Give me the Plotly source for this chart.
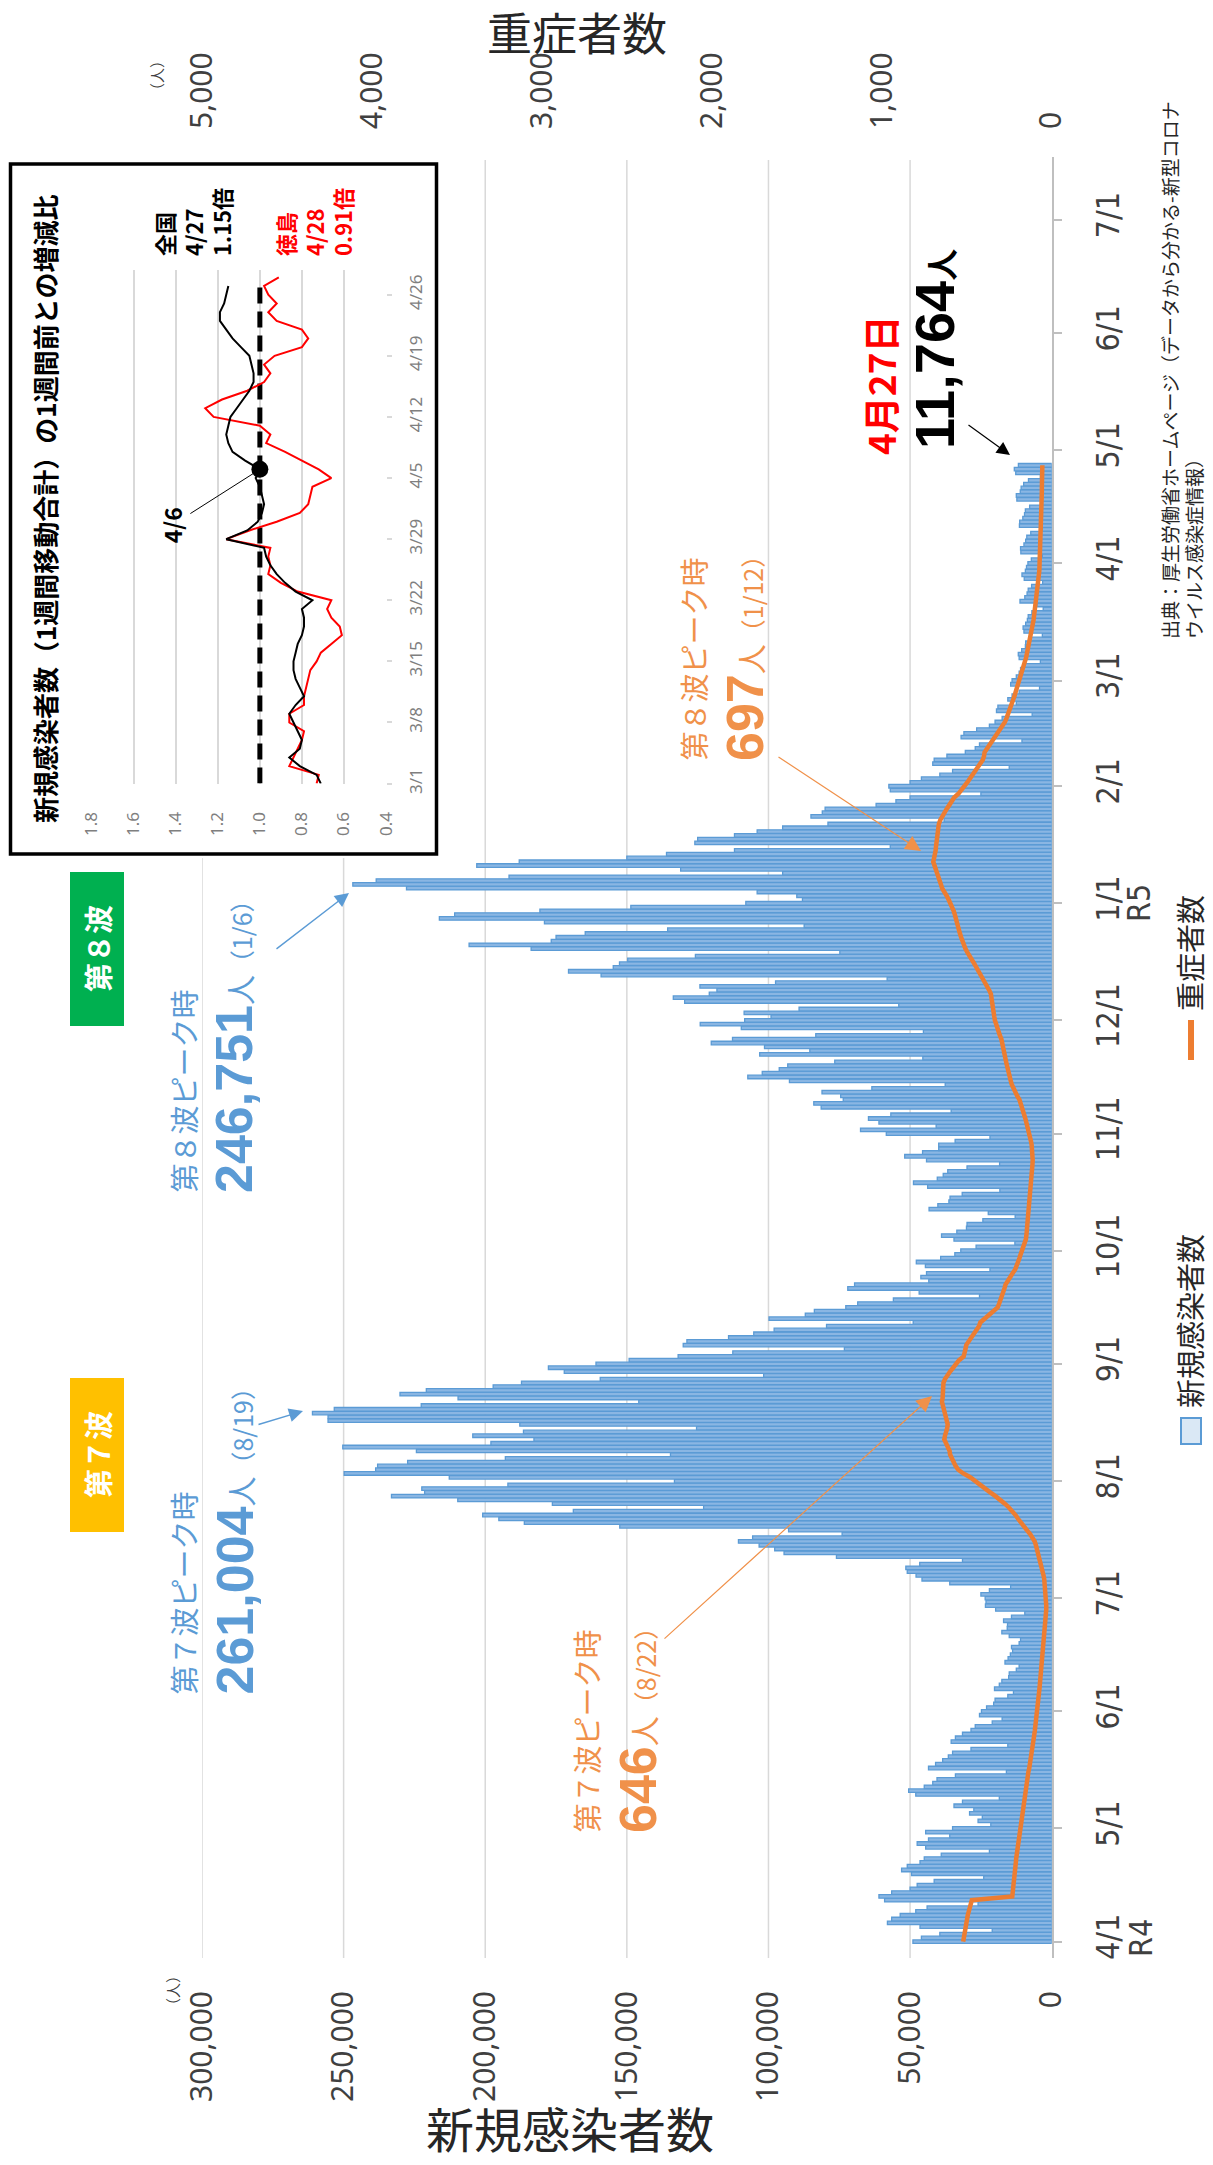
import pandas as pd
import plotly.graph_objects as go

# ---------------- data : daily new cases (人) ----------------
cases_2022_04 = [49000, 46000, 39500, 21000, 46500, 58000, 56500, 53500, 48000, 44000,
                 26000, 59000, 61000, 56500, 50000, 47500, 41500, 24000, 49500, 53000,
                 51000, 46500, 45000, 39000, 22000, 44500, 47500, 43500, 36000, 44500]
cases_2022_05 = [35000, 21500, 26000, 24500, 29000, 27500, 34500, 31500, 18500, 48000,
                 50500, 45000, 42000, 40500, 34000, 16000, 43500, 41000, 38500, 36500,
                 35000, 28500, 15500, 35500, 34000, 31500, 28500, 27000, 21000, 17500,
                 25500]
cases_2022_06 = [24800, 23000, 20500, 20000, 15500, 13500, 20200, 18500, 17600, 15200,
                 15000, 12500, 11500, 16500, 15400, 14600, 13800, 14200, 11500, 11000,
                 15000, 17600, 15700, 15600, 17000, 14200, 9500, 19800, 23400, 23200]
cases_2022_07 = [23500, 25000, 22000, 14500, 36000, 45800, 47900, 51000, 51500, 46600,
                 31500, 76000, 94500, 97800, 103300, 110600, 105600, 74000, 92900, 152500,
                 186200, 195200, 200900, 168900, 122900, 176300, 209700, 233100, 221400, 222400,
                 192000]
cases_2022_08 = [133200, 212700, 249800, 238700, 238000, 227400, 192900, 134600, 224300, 250300,
                 198000, 182800, 204400, 186500, 125400, 187800, 255500, 255500, 261004, 253300,
                 222600, 145800, 209600, 230100, 220800, 197200, 187200, 159400, 101700, 172100,
                 177700]
cases_2022_09 = [160900, 149200, 131900, 112600, 73200, 130100, 128800, 114100, 105200, 98000,
                 79500, 48900, 99800, 87000, 83800, 72700, 68500, 55900, 25500, 46800,
                 72000, 69600, 43400, 46200, 44200, 21800, 44600, 47800, 39200, 34200]
cases_2022_10 = [32100, 26700, 13000, 34500, 38900, 33500, 30100, 29900, 24300, 12900,
                 22400, 43300, 40200, 36300, 35900, 31600, 18300, 43800, 48800, 40400,
                 38300, 36700, 29900, 18400, 44200, 51900, 45600, 39900, 39900, 34100,
                 21800]
cases_2022_11 = [58400, 67500, 40800, 61000, 64700, 56800, 35500, 81400, 84000, 73600,
                 74500, 81100, 63500, 37600, 92600, 107300, 102200, 96200, 93200, 76600,
                 45500, 103100, 85400, 101400, 120200, 112700, 83300, 45300, 109600, 124100]
cases_2022_12 = [108400, 99100, 108600, 89200, 54000, 129600, 133600, 120900, 118200, 124200,
                 97500, 58100, 159100, 170600, 154800, 152600, 149700, 125800, 74800, 183800,
                 205700, 176700, 175000, 164700, 135600, 87400, 179100, 216200, 210800, 180700,
                 148600]
cases_2023_01 = [108000, 88000, 90000, 104000, 227800, 246751, 238500, 191600, 95000, 131000,
                 203000, 188000, 150000, 136000, 112000, 57000, 126000, 125000, 112000, 104000,
                 95000, 79000, 38000, 85000, 81000, 80000, 62000, 55000, 50000, 25000,
                 57000]
cases_2023_02 = [57500, 50000, 46000, 39500, 35000, 15000, 42000, 41500, 37000, 30500,
                 27000, 25500, 10500, 32000, 31000, 26500, 22000, 20000, 17500, 6900,
                 19500, 19000, 12500, 15500, 14000, 11500, 4300, 14500]
cases_2023_03 = [14000, 12500, 11500, 11000, 9500, 4000, 11500, 11800, 10600, 9300,
                 9200, 7800, 3300, 9800, 10100, 9200, 8600, 8300, 7000, 3000,
                 5200, 11200, 9500, 8700, 8300, 7100, 3200, 9700, 10500, 9300,
                 8900]
cases_2023_04 = [8400, 7200, 3300, 10900, 11000, 9800, 9200, 8800, 7400, 3300,
                 11400, 11300, 10200, 9600, 9300, 7800, 3800, 12300, 12500, 11100,
                 10800, 9900, 8200, 4000, 12700, 13200, 11764]

# ---------------- data : severe cases (重症者数) ----------------
severe_2022_04 = [521, 518, 515, 511, 508, 503, 498, 494, 488, 482, 476, 470, 232, 229, 227,
                  225, 223, 221, 218, 216, 213, 211, 209, 206, 204, 201, 198, 195, 192, 188]
severe_2022_05 = [185, 182, 179, 176, 172, 170, 168, 166, 163, 161, 158, 155, 151, 146, 141,
                  137, 132, 128, 124, 120, 117, 114, 111, 108, 105, 102, 99, 96, 94, 91, 89]
severe_2022_06 = [86, 83, 81, 79, 77, 75, 72, 70, 68, 66, 64, 61, 59, 57, 55,
                  52, 49, 46, 44, 42, 40, 38, 37, 36, 34, 33, 33, 32, 32, 33]
severe_2022_07 = [34, 35, 37, 38, 40, 44, 48, 53, 58, 62, 67, 72, 78, 85, 93, 100,
                  112, 128, 146, 165, 182, 198, 213, 230, 252, 276, 300, 331, 362, 391, 428]
severe_2022_08 = [455, 480, 520, 550, 566, 579, 590, 598, 601, 612, 625, 632, 628, 620, 615, 612,
                  618, 624, 630, 638, 643, 646, 642, 640, 641, 639, 637, 628, 615, 598, 580]
severe_2022_09 = [562, 545, 518, 510, 507, 503, 488, 466, 452, 440, 428, 420, 396, 368, 340,
                  318, 309, 300, 292, 284, 278, 272, 260, 246, 230, 215, 205, 197, 190, 183]
severe_2022_10 = [174, 165, 156, 152, 149, 147, 145, 143, 140, 138, 136, 134, 132, 130, 128, 127,
                  125, 124, 117, 115, 114, 113, 112, 113, 112, 112, 114, 116, 118, 122, 127]
severe_2022_11 = [131, 135, 140, 147, 155, 162, 169, 174, 179, 190, 203, 215, 226, 235, 241,
                  245, 252, 258, 263, 268, 272, 275, 279, 284, 289, 296, 305, 314, 322, 330]
severe_2022_12 = [334, 338, 341, 345, 349, 352, 355, 358, 368, 380, 392, 402, 412, 428, 443, 456,
                  467, 482, 496, 508, 518, 526, 533, 540, 545, 549, 555, 562, 570, 577, 585]
severe_2023_01 = [596, 607, 618, 632, 645, 652, 660, 667, 673, 681, 690, 697, 692, 686, 683, 681,
                  679, 677, 675, 673, 670, 664, 656, 645, 632, 618, 603, 590, 574, 549, 530]
severe_2023_02 = [512, 497, 482, 467, 452, 436, 420, 405, 398, 395, 380, 364, 349, 333,
                  318, 303, 289, 275, 266, 257, 248, 240, 232, 225, 218, 212, 206, 200]
severe_2023_03 = [194, 187, 180, 173, 166, 158, 151, 146, 141, 136, 131, 126, 121, 116, 113, 110,
                  107, 104, 101, 98, 95, 92, 89, 86, 83, 81, 79, 77, 75, 73, 72]
severe_2023_04 = [71, 70, 69, 68, 67, 66, 66, 65, 65, 64, 64, 63, 62, 62, 61, 60, 60, 59,
                  59, 58, 58, 57, 57, 56, 56, 55, 55]

# ---------------- axis ticks ----------------
case_tick_vals = [0, 50000, 100000, 150000, 200000, 250000, 300000]
case_tick_text = ["0", "50,000", "100,000", "150,000", "200,000", "250,000", "300,000"]
severe_tick_vals = [0, 1000, 2000, 3000, 4000, 5000]
severe_tick_text = ["0", "1,000", "2,000", "3,000", "4,000", "5,000"]
month_tick_vals = ["2022-04-01", "2022-05-01", "2022-06-01", "2022-07-01", "2022-08-01",
                   "2022-09-01", "2022-10-01", "2022-11-01", "2022-12-01", "2023-01-01",
                   "2023-02-01", "2023-03-01", "2023-04-01", "2023-05-01", "2023-06-01",
                   "2023-07-01"]
month_tick_text = ["4/1", "5/1", "6/1", "7/1", "8/1", "9/1", "10/1", "11/1", "12/1",
                   "1/1", "2/1", "3/1", "4/1", "5/1", "6/1", "7/1"]

# ---------------- inset data : ratio to one week before ----------------
ratio_national = [0.71, 0.73, 0.81, 0.86, 0.81, 0.80, 0.82, 0.84, 0.86, 0.83,
                  0.79, 0.81, 0.83, 0.84, 0.84, 0.83, 0.82, 0.80, 0.79, 0.79,
                  0.80, 0.75, 0.83, 0.88, 0.92, 0.95, 0.97, 0.98, 1.16, 1.06,
                  1.01, 0.99, 0.98, 0.99, 1.00, 1.02, 1.00, 1.07, 1.13, 1.15,
                  1.16, 1.15, 1.14, 1.11, 1.08, 1.05, 1.03, 1.03, 1.04, 1.05,
                  1.09, 1.13, 1.16, 1.19, 1.19, 1.17, 1.16, 1.15]
ratio_tokushima = [0.73, 0.72, 0.86, 0.84, 0.82, 0.80, 0.79, 0.86, 0.86, 0.79,
                   0.79, 0.78, 0.77, 0.76, 0.73, 0.71, 0.66, 0.61, 0.62, 0.66,
                   0.68, 0.66, 0.82, 0.90, 0.96, 0.95, 0.96, 0.95, 1.16, 1.05,
                   0.92, 0.81, 0.77, 0.76, 0.75, 0.66, 0.72, 0.80, 0.88, 0.97,
                   0.95, 1.00, 1.22, 1.26, 1.18, 1.06, 0.98, 0.95, 0.98, 0.93,
                   0.80, 0.77, 0.80, 0.92, 0.96, 0.92, 0.96, 0.98, 0.91]
ratio_reference = [1.0, 1.0]
ratio_reference_dates = ["2023-03-01", "2023-04-27"]
highlight_date = "2023-04-06"
inset_tick_vals = ["2023-03-01", "2023-03-08", "2023-03-15", "2023-03-22", "2023-03-29",
                   "2023-04-05", "2023-04-12", "2023-04-19", "2023-04-26"]
inset_tick_text = ["3/1", "3/8", "3/15", "3/22", "3/29", "4/5", "4/12", "4/19", "4/26"]
ratio_tick_vals = [0.4, 0.6, 0.8, 1.0, 1.2, 1.4, 1.6, 1.8]
ratio_tick_text = ["0.4", "0.6", "0.8", "1.0", "1.2", "1.4", "1.6", "1.8"]

# ---------------- assemble ----------------
new_cases = (cases_2022_04 + cases_2022_05 + cases_2022_06 + cases_2022_07 + cases_2022_08 +
             cases_2022_09 + cases_2022_10 + cases_2022_11 + cases_2022_12 + cases_2023_01 +
             cases_2023_02 + cases_2023_03 + cases_2023_04)
severe = (severe_2022_04 + severe_2022_05 + severe_2022_06 + severe_2022_07 + severe_2022_08 +
          severe_2022_09 + severe_2022_10 + severe_2022_11 + severe_2022_12 + severe_2023_01 +
          severe_2023_02 + severe_2023_03 + severe_2023_04)
dates = pd.date_range("2022-04-01", periods=len(new_cases), freq="D")
dates_nat = pd.date_range("2023-03-01", periods=len(ratio_national), freq="D")
dates_tok = pd.date_range("2023-03-01", periods=len(ratio_tokushima), freq="D")
hl_value = ratio_national[list(dates_nat.strftime("%Y-%m-%d")).index(highlight_date)]

W, H = 1213, 2165


def px(x):
    return x / W


def py(y):
    return 1 - y / H


JP = "Noto Sans CJK JP"
NARROW = "Liberation Sans Narrow, DejaVu Sans Condensed, Liberation Sans, sans-serif"
BLUE = "#5B9BD5"
ORANGE = "#F0914A"
GREY_TXT = "#404040"

fig = go.Figure()
fig.add_trace(go.Bar(x=new_cases, y=dates, orientation="h", xaxis="x", yaxis="y",
                     marker=dict(color="#8AB6E3", line=dict(color="#5B9BD5", width=1.3)),
                     name="新規感染者数"))
fig.add_trace(go.Scatter(x=severe, y=dates, mode="lines", xaxis="x2", yaxis="y",
                         line=dict(color="#ED7D31", width=4.5), name="重症者数"))
fig.add_trace(go.Scatter(x=ratio_reference, y=ratio_reference_dates, mode="lines",
                         xaxis="x3", yaxis="y3",
                         line=dict(color="black", width=5, dash="16px,8px")))
fig.add_trace(go.Scatter(x=ratio_tokushima, y=dates_tok, mode="lines", xaxis="x3", yaxis="y3",
                         line=dict(color="#FF0000", width=2)))
fig.add_trace(go.Scatter(x=ratio_national, y=dates_nat, mode="lines", xaxis="x3", yaxis="y3",
                         line=dict(color="black", width=2)))
fig.add_trace(go.Scatter(x=[hl_value], y=[highlight_date], mode="markers", xaxis="x3",
                         yaxis="y3", marker=dict(color="black", size=17)))

# ---------------- shapes ----------------
shapes = []
for v in case_tick_vals[1:]:
    top = 160 if v < 250000 else 858
    shapes.append(dict(type="line", xref="x", yref="paper", x0=v, x1=v,
                       y0=py(1958), y1=py(top), line=dict(color="#D9D9D9", width=1.5),
                       layer="below"))
# inset frame
shapes.append(dict(type="rect", xref="paper", yref="paper", x0=px(10.5), x1=px(436.5),
                   y0=py(854), y1=py(164), line=dict(color="black", width=3.5),
                   fillcolor="white", layer="below"))
# wave labels
shapes.append(dict(type="rect", xref="paper", yref="paper", x0=px(70), x1=px(124),
                   y0=py(1532), y1=py(1378), line=dict(width=0), fillcolor="#FFC000"))
shapes.append(dict(type="rect", xref="paper", yref="paper", x0=px(70), x1=px(124),
                   y0=py(1026), y1=py(872), line=dict(width=0), fillcolor="#00B050"))
# legend symbols
shapes.append(dict(type="rect", xref="paper", yref="paper", x0=px(1181), x1=px(1201),
                   y0=py(1444), y1=py(1418), line=dict(color=BLUE, width=2),
                   fillcolor="#DAE8F5"))
shapes.append(dict(type="line", xref="paper", yref="paper", x0=px(1191), x1=px(1191),
                   y0=py(1060), y1=py(1020), line=dict(color="#ED7D31", width=6)))

# ---------------- annotations ----------------
ann = []


def rot(text, xc, ybot=None, yc=None, size=20, color=GREY_TXT, family=JP, align="left"):
    d = dict(text=text, xref="paper", yref="paper", x=px(xc), xanchor="center",
             textangle=-90, showarrow=False, align=align,
             font=dict(size=size, color=color, family=family))
    if ybot is not None:
        d.update(y=py(ybot), yanchor="bottom")
    else:
        d.update(y=py(yc), yanchor="middle")
    return d


def arrow(tipx, tipy, tailx, taily, color, width=1.4, head=2, size=2.0):
    return dict(text="", xref="paper", yref="paper", x=px(tipx), y=py(tipy),
                ax=tailx - tipx, ay=taily - tipy, showarrow=True, arrowhead=head,
                arrowsize=size, arrowwidth=width, arrowcolor=color)


ann.append(rot("（人）", 172, yc=1991, size=15))
ann.append(rot("（人）", 157, yc=76, size=15))
ann.append(dict(text="新規感染者数", xref="paper", yref="paper", x=px(570), y=py(2127),
                xanchor="center", yanchor="middle", showarrow=False,
                font=dict(size=48, color="#262626", family=JP)))
ann.append(dict(text="重症者数", xref="paper", yref="paper", x=px(577), y=py(31),
                xanchor="center", yanchor="middle", showarrow=False,
                font=dict(size=45, color="#262626", family=JP)))
ann.append(rot("R4", 1141, yc=1938, size=32, family=NARROW))
ann.append(rot("R5", 1139, yc=903, size=32, family=NARROW))
# legend texts
ann.append(rot("新規感染者数", 1189, ybot=1410, size=29, color="#262626"))
ann.append(rot("重症者数", 1189, ybot=1013, size=29, color="#262626"))
# source
ann.append(rot("出典：厚生労働省ホームページ（データから分かる-新型コロナ", 1170, ybot=641, size=19,
               color="#262626"))
ann.append(rot("ウイルス感染症情報）", 1194, ybot=641, size=19, color="#262626"))
# wave boxes text
ann.append(rot("<b>第７波</b>", 97, yc=1455, size=29, color="white"))
ann.append(rot("<b>第８波</b>", 97, yc=949, size=29, color="white"))


def big(num, unit, paren, num_size=52):
    return ('<span style="font-family:Liberation Sans Narrow,sans-serif;font-size:%dpx;'
            'font-weight:bold">%s</span><span style="font-size:30px">%s</span>'
            '<span style="font-size:25px">%s</span>' % (num_size, num, unit, paren))


# blue peak annotations
ann.append(rot("第７波ピーク時", 182, ybot=1697, size=29, color=BLUE))
ann.append(rot(big("261,004", "人", "（8/19）"), 234, ybot=1697, size=30, color=BLUE))
ann.append(rot("第８波ピーク時", 182, ybot=1195, size=29, color=BLUE))
ann.append(rot(big("246,751", "人", "（1/6）"), 234, ybot=1195, size=30, color=BLUE))
ann.append(arrow(303, 1411, 257, 1425, BLUE))
ann.append(arrow(349, 893, 275, 950, BLUE))
# orange peak annotations
ann.append(rot("第７波ピーク時", 585, ybot=1835, size=29, color=ORANGE))
ann.append(rot(big("646", "人", "（8/22）"), 638, ybot=1835, size=30, color=ORANGE))
ann.append(rot("第８波ピーク時", 692, ybot=763, size=29, color=ORANGE))
ann.append(rot(big("697", "人", "（1/12）"), 745, ybot=763, size=30, color=ORANGE))
ann.append(arrow(932, 1396, 663, 1640, ORANGE, width=1.2, size=2.6))
ann.append(arrow(921, 851, 777, 756, ORANGE, width=1.2, size=2.6))
# latest value
ann.append(rot("<b>4月27日</b>", 880, ybot=457, size=37, color="#FF0000"))
ann.append(rot('<span style="font-family:Liberation Sans Narrow,sans-serif;font-size:56px;'
               'font-weight:bold">11,764</span><b>人</b>', 934, ybot=451, size=32,
               color="black"))
ann.append(arrow(1010, 455, 967, 424, "black", width=1.2, size=2.2))
# inset texts
ann.append(rot("<b>新規感染者数（1週間移動合計）の1週間前との増減比</b>", 44, yc=509, size=26,
               color="black"))
ann.append(rot("<b>全国<br>4/27<br>1.15倍</b>", 193, ybot=258, size=22, color="black"))
ann.append(rot("<b>徳島<br>4/28<br>0.91倍</b>", 314, ybot=258, size=22, color="#FF0000"))
ann.append(dict(text="<b>4/6</b>", xref="x3", yref="y3", x=hl_value, y=highlight_date,
                ax=-88, ay=56, showarrow=True, arrowhead=0, arrowwidth=1,
                arrowcolor="black", textangle=-90,
                font=dict(size=23, color="black", family=JP)))

fig.update_layout(
    template="none",
    width=W, height=H, autosize=False,
    margin=dict(l=0, r=0, t=0, b=0, pad=0, autoexpand=False),
    paper_bgcolor="white", plot_bgcolor="rgba(0,0,0,0)",
    showlegend=False, bargap=0.06,
    font=dict(family=JP, color=GREY_TXT),
    shapes=shapes, annotations=ann,
    xaxis=dict(domain=[px(202), px(1051.7)], range=[300000, 0], anchor="y", side="bottom",
               tickvals=case_tick_vals, ticktext=case_tick_text, tickangle=-90,
               showgrid=False, zeroline=False, showline=False, ticks="", automargin=False,
               ticklabelstandoff=26, tickfont=dict(size=30, family="Noto Sans", color=GREY_TXT)),
    xaxis2=dict(overlaying="x", range=[5000, 0], anchor="y", side="top",
                tickvals=severe_tick_vals, ticktext=severe_tick_text, tickangle=-90,
                showgrid=False, zeroline=False, showline=False, ticks="", automargin=False,
                ticklabelstandoff=27, tickfont=dict(size=30, family="Noto Sans", color=GREY_TXT)),
    yaxis=dict(domain=[py(1958), py(157)], type="date", anchor="x", side="right",
               range=["2022-03-27 16:24", "2023-07-17 15:24"],
               tickvals=month_tick_vals, ticktext=month_tick_text, tickangle=-90,
               showgrid=False, zeroline=False, showline=True, linecolor="#BFBFBF", linewidth=1.5,
               ticks="outside", ticklen=9, tickcolor="#BFBFBF", tickwidth=1.5, automargin=False,
               ticklabelstandoff=18, tickfont=dict(size=32, family=NARROW, color=GREY_TXT)),
    xaxis3=dict(domain=[px(91.7), px(386)], range=[1.8, 0.4], anchor="y3", side="bottom",
                tickvals=ratio_tick_vals, ticktext=ratio_tick_text, tickangle=-90,
                showgrid=True, gridcolor="#D9D9D9", gridwidth=1.5, zeroline=False,
                showline=False, ticks="", ticklabelstandoff=24, automargin=False,
                tickfont=dict(size=17, family="Noto Sans", color="#7F7F7F")),
    yaxis3=dict(domain=[py(783.6), py(270)], type="date", anchor="x3", side="right",
                range=["2023-03-01", "2023-04-28 20:00"],
                tickvals=inset_tick_vals, ticktext=inset_tick_text, tickangle=-90,
                showgrid=False, zeroline=False, showline=False, automargin=False,
                ticks="outside", ticklen=5, tickcolor="#D9D9D9", tickwidth=1.5,
                ticklabelstandoff=10, tickfont=dict(size=17, family="Noto Sans", color="#7F7F7F")),
)

fig.write_html("out.html")
